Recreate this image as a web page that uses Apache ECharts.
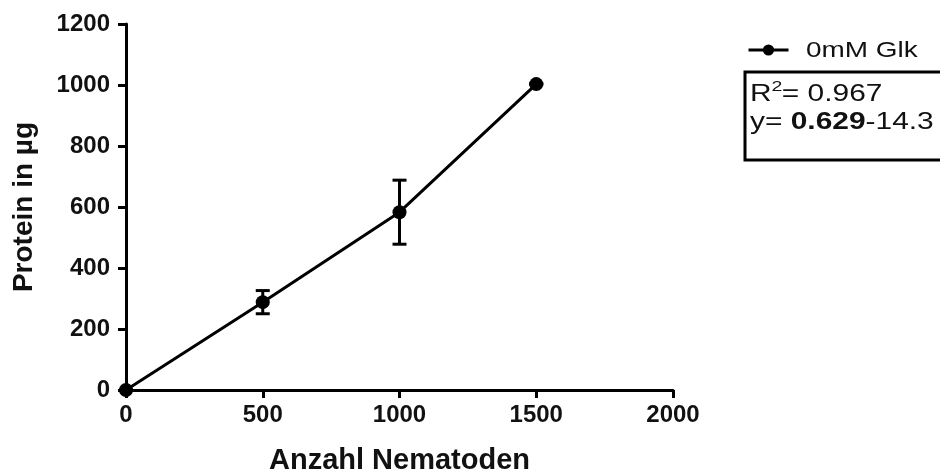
<!DOCTYPE html>
<html>
<head>
<meta charset="utf-8">
<script src="https://cdn.jsdelivr.net/npm/echarts@6/dist/echarts.min.js"></script>
<style>html,body{margin:0;padding:0;background:#fff;}#c{width:940px;height:474px;}</style>
</head>
<body>
<div id="c"></div>
<script>
const xValues = [0, 500, 1000, 1500];
const proteinMeans = [0, 288, 583, 1003];
const proteinErrors = [0, 38, 105, 0];
const seriesName = '0mM Glk';
const xTicks = [0, 500, 1000, 1500, 2000];
const yTicks = [0, 200, 400, 600, 800, 1000, 1200];
const fitR2 = '0.967';
const fitSlope = '0.629';
const fitIntercept = '-14.3';

const chart = echarts.init(document.getElementById('c'), null, {renderer: 'canvas'});
const font = 'Liberation Sans, Arial, sans-serif';
const lineData = xValues.map((x, i) => [x, proteinMeans[i]]);
const errData = xValues.map((x, i) => [x, proteinMeans[i] - proteinErrors[i], proteinMeans[i] + proteinErrors[i]]);

chart.setOption({
  animation: false,
  backgroundColor: '#fff',
  grid: {left: 126, right: 267, top: 24, bottom: 84, containLabel: false, outerBoundsMode: 'none'},
  legend: {
    data: [seriesName],
    left: 742, top: 38,
    itemWidth: 40, itemHeight: 14,
    lineStyle: {width: 3},
    formatter: function () { return ''; },
    textStyle: {fontFamily: font, fontSize: 1}
  },
  xAxis: {
    type: 'value', min: xTicks[0], max: xTicks[xTicks.length - 1], interval: 500,
    name: 'Anzahl Nematoden', nameLocation: 'middle', nameGap: 56,
    nameTextStyle: {fontFamily: font, fontSize: 29, fontWeight: 'bold', color: '#111'},
    axisLine: {lineStyle: {color: '#000', width: 3}},
    axisTick: {length: 8, lineStyle: {color: '#000', width: 3}},
    axisLabel: {fontFamily: font, fontSize: 24, fontWeight: 'bold', color: '#111', margin: 13,
      formatter: function (v) { return String(v); }},
    splitLine: {show: false}
  },
  yAxis: {
    type: 'value', min: yTicks[0], max: yTicks[yTicks.length - 1], interval: 200,
    name: 'Protein in µg', nameLocation: 'middle', nameGap: 88,
    nameTextStyle: {fontFamily: font, fontSize: 28, fontWeight: 'bold', color: '#111'},
    axisLine: {show: true, lineStyle: {color: '#000', width: 3}},
    axisTick: {show: true, length: 8, lineStyle: {color: '#000', width: 3}},
    axisLabel: {fontFamily: font, fontSize: 24, fontWeight: 'bold', color: '#111', margin: 16,
      formatter: function (v) { return String(v); }},
    splitLine: {show: false}
  },
  series: [
    {
      name: seriesName, type: 'line', data: lineData,
      symbol: 'circle', symbolSize: 14,
      lineStyle: {color: '#000', width: 3},
      itemStyle: {color: '#000'},
      z: 3
    },
    {
      name: 'err', type: 'custom', data: errData,
      renderItem: function (params, api) {
        const x = api.value(0);
        const lo = api.coord([x, api.value(1)]);
        const hi = api.coord([x, api.value(2)]);
        const hw = 7;
        const st = {stroke: '#000', lineWidth: 3};
        return {
          type: 'group',
          children: [
            {type: 'line', shape: {x1: lo[0], y1: lo[1], x2: hi[0], y2: hi[1]}, style: st},
            {type: 'line', shape: {x1: lo[0] - hw, y1: lo[1], x2: lo[0] + hw, y2: lo[1]}, style: st},
            {type: 'line', shape: {x1: hi[0] - hw, y1: hi[1], x2: hi[0] + hw, y2: hi[1]}, style: st}
          ]
        };
      },
      z: 2
    }
  ],
  graphic: [
    {type: 'text', x: 806, y: 51, scaleX: 1.27,
      style: {text: seriesName, fontFamily: font, fontSize: 22, fill: '#111', verticalAlign: 'middle'}},
    {type: 'rect', shape: {x: 745, y: 72, width: 220, height: 88}, style: {fill: '#fff', stroke: '#000', lineWidth: 3}},
    {type: 'group', x: 750, y: 0, scaleX: 1.3, children: [
      {type: 'text', x: 0, y: 95, style: {text: 'R', fontFamily: font, fontSize: 23, fill: '#111', verticalAlign: 'middle'}},
      {type: 'text', x: 16.5, y: 87, style: {text: '2', fontFamily: font, fontSize: 15, fill: '#111', verticalAlign: 'middle'}},
      {type: 'text', x: 24.5, y: 95, style: {text: '= ' + fitR2, fontFamily: font, fontSize: 23, fill: '#111', verticalAlign: 'middle'}},
      {type: 'text', x: 0, y: 122.5, style: {
        text: 'y= {b|' + fitSlope + '}' + fitIntercept, fontFamily: font, fontSize: 23, fill: '#111', verticalAlign: 'middle',
        rich: {b: {fontFamily: font, fontSize: 23, fontWeight: 'bold', fill: '#111'}}
      }}
    ]}
  ]
});
</script>
</body>
</html>
